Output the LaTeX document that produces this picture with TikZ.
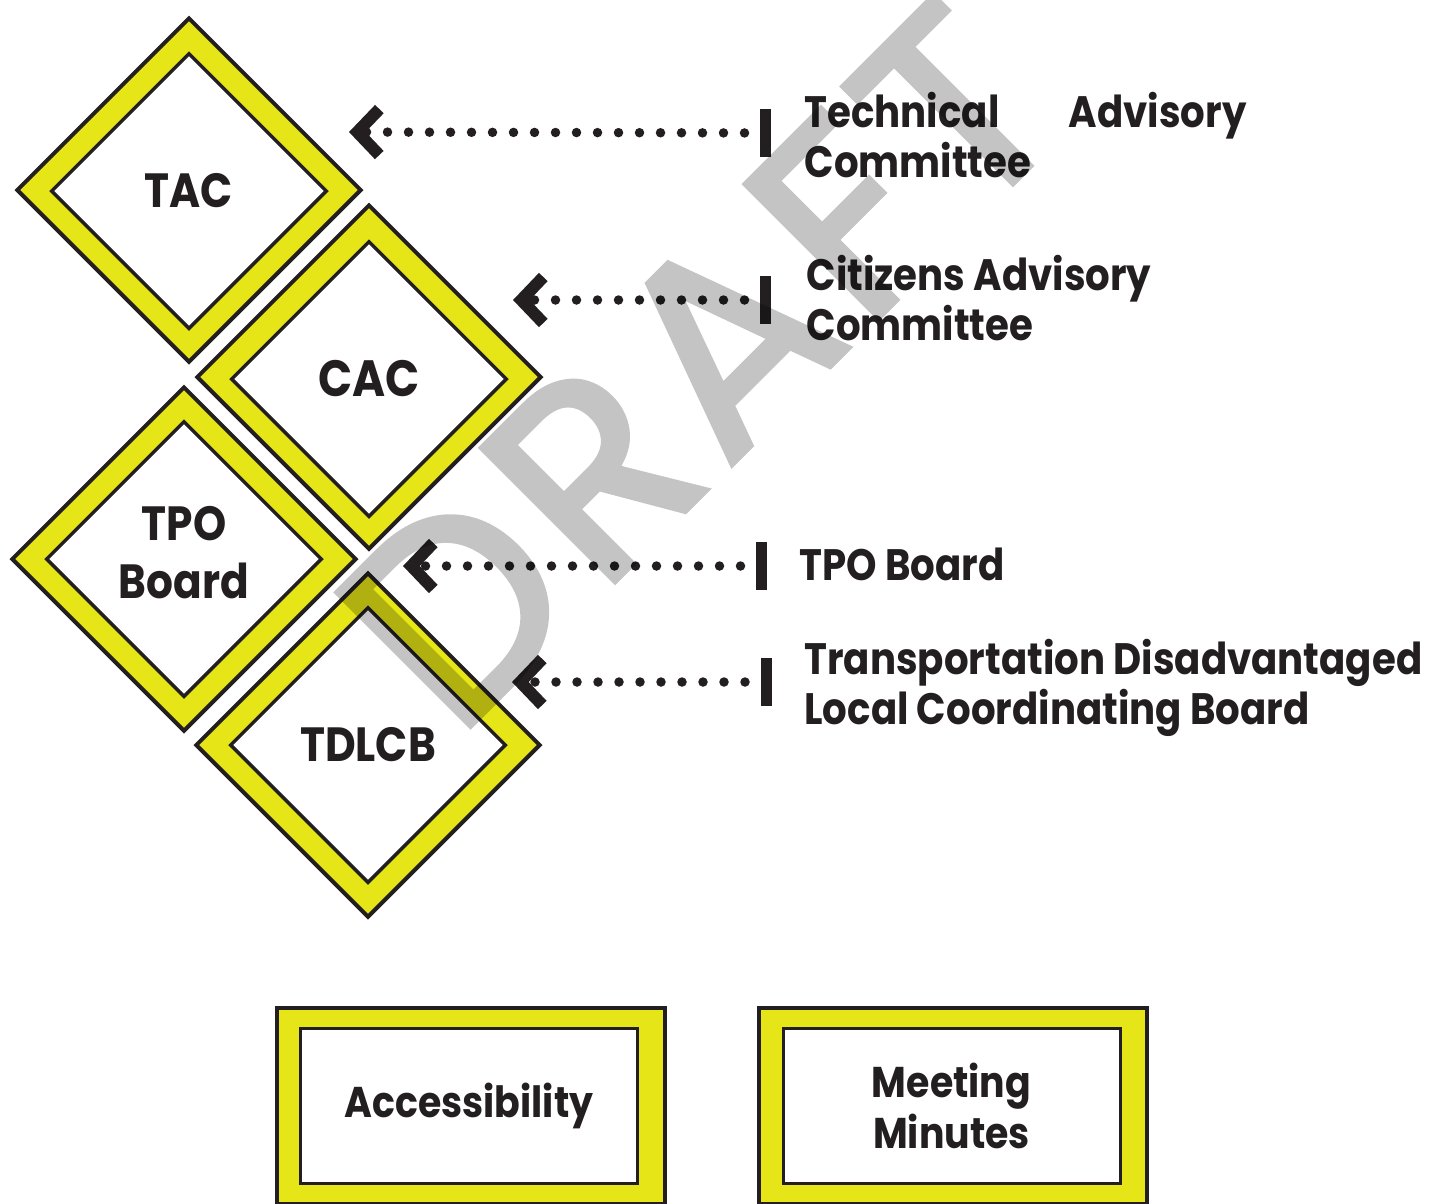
\documentclass[tikz,border=0pt]{standalone}
\usepackage{fontspec}
\setmainfont{Poppins}[FakeStretch=0.88]
\newfontfamily\draftfont{Poppins}[LetterSpace=5,FakeBold=2.2]
\usetikzlibrary{shapes.geometric,arrows.meta}

\definecolor{signyellow}{RGB}{229,229,23}
\definecolor{inkblack}{RGB}{35,31,32}

\tikzset{every picture/.style={line width=3pt}}
\tikzset{
  outerdia/.style={diamond, aspect=1, minimum width=345pt, minimum height=345pt, inner sep=0pt, draw=inkblack, line width=4pt, fill=signyellow},
  innerdia/.style={diamond, aspect=1, minimum width=276pt, minimum height=276pt, inner sep=0pt, draw=inkblack, line width=3.5pt, fill=white, text=inkblack, align=center, font=\fontsize{48}{58}\selectfont\bfseries},
  diatext/.style={inner sep=0pt, text=inkblack, align=center, font=\fontsize{48}{58}\selectfont\bfseries},
  outerbox/.style={draw=inkblack, line width=4pt, fill=signyellow, minimum width=388pt, minimum height=196pt, inner sep=0pt},
  innerbox/.style={draw=inkblack, line width=3pt, fill=white, minimum width=337pt, minimum height=155pt, inner sep=0pt, text=inkblack, align=center, font=\fontsize{43}{51}\selectfont\bfseries},
  stopbar/.style={fill=inkblack, minimum width=11pt, minimum height=48pt, inner sep=0pt},
  dotlink/.style={draw=inkblack, line width=9.5pt, line cap=round, dash pattern=on 0pt off 21pt, -{Straight Barb[length=22pt,width=46pt,line width=12pt]}},
  lbltext/.style={anchor=west, inner sep=0pt, text=inkblack, align=left, font=\fontsize{44}{50}\selectfont\bfseries},
  watermark/.style={text=black, inner sep=0pt, font=\fontsize{270}{270}\selectfont\draftfont}
}

\begin{document}
\begin{tikzpicture}[x=1pt,y=1pt,yscale=-1,xscale=1]
\useasboundingbox (0,0) rectangle (1439,1203);

%Shape: Diamond [TAC]
\node[outerdia] (tac) at (189,190) {};
\node[innerdia] (tacin) at (189,191) {TAC};
%Shape: Diamond [CAC]
\node[outerdia] (cac) at (369,377) {};
\node[innerdia, font=\fontsize{51}{58}\selectfont\bfseries] (cacin) at (369,379) {CAC};
%Shape: Diamond [TPO Board]
\node[outerdia] (tpo) at (184,559) {};
\node[innerdia] (tpoin) at (tpo) {};
\node[diatext] (tpotxt) at (184,553) {TPO\\Board};
%Shape: Diamond [TDLCB]
\node[outerdia] (tdlcb) at (368,745) {};
\node[innerdia] (tdlcbin) at (tdlcb) {TDLCB};

%Bars
\node[stopbar] (tacbar) at (765.5,133) {};
\node[stopbar] (cacbar) at (765.5,300) {};
\node[stopbar] (tpobar) at (761.5,566) {};
\node[stopbar] (tdlcbbar) at (766,682) {};

%Arrow ends
\coordinate (tacend) at (349,132);
\coordinate (cacend) at (513,300);
\coordinate (tpoend) at (403,566);
\coordinate (tdlcbend) at (512,682);

%Dotted Lines
\draw[dotlink] (tacbar.center) -- (tacend);
\draw[dotlink] (cacbar.center) -- (cacend);
\draw[dotlink] (tpobar.center) -- (tpoend);
\draw[dotlink] (tdlcbbar.center) -- (tdlcbend);

% Text Node
\node[lbltext] (taclbl) at (803,135) {\makebox[442pt][l]{Technical\hfill Advisory}\\Committee};
% Text Node
\node[lbltext] (caclbl) at (805,298) {Citizens Advisory\\Committee};
% Text Node
\node[lbltext] (tpolbl) at (798,564) {TPO Board};
% Text Node
\node[lbltext] (tdlcblbl) at (803,688) {Transportation Disadvantaged\\Local Coordinating Board};

%Shape: Rectangle [Accessibility]
\node[outerbox] (acc) at (471,1106) {};
\node[innerbox] (accin) at (469,1106) {Accessibility};
%Shape: Rectangle [Meeting Minutes]
\node[outerbox] (mins) at (953,1106) {};
\node[innerbox] (minsin) at (951.5,1106) {Meeting\\Minutes};

%Watermark
\begin{scope}[transparency group, opacity=0.23]
\node[watermark, rotate=45] (draft) at (698,365) {DRAFT};
\end{scope}

\end{tikzpicture}
\end{document}
